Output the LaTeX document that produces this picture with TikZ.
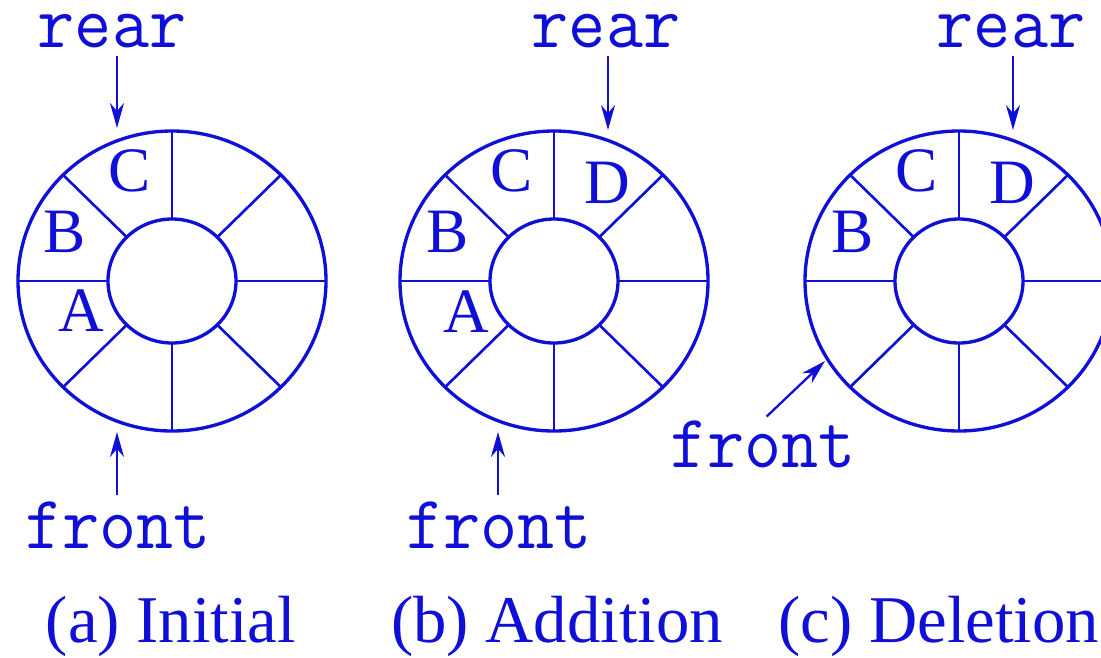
\documentclass[tikz,border=0pt]{standalone}
\usepackage{fontspec}
\setmainfont{Liberation Serif}
\usetikzlibrary{arrows.meta,calc}
\definecolor{qblue}{RGB}{15,15,215}
\tikzset{
  ring/.style={qblue, line width=1.9pt},
  spk/.style={qblue, line width=1.5pt},
  slot/.style={font=\fontsize{36}{36}\selectfont, text=qblue, inner sep=0pt},
  ptr/.style={font=\ttfamily\fontsize{41}{41}\selectfont, text=qblue, inner sep=0pt, yscale=1.05},
  parr/.style={-{Stealth[length=5mm, width=2.8mm]}, qblue, line width=1.3pt},
  capt/.style={font=\fontsize{38}{38}\selectfont, text=qblue, inner sep=0pt},
}

\begin{document}
\begin{tikzpicture}[x=0.02cm,y=-0.02cm]
  \useasboundingbox (0,0) rectangle (1101,657);
  \foreach \q/\cx in {a/172, b/554, c/959}{
    \coordinate (ring\q) at (\cx,281);
    \draw[ring] (ring\q) ellipse [x radius=154, y radius=150];
    \draw[ring] (ring\q) ellipse [x radius=64, y radius=62];
    \foreach \ang in {0,45,...,315}
      \draw[spk] ($(ring\q)+(\ang:64 and 62)$) -- ($(ring\q)+(\ang:154 and 150)$);
  }
  \foreach \q/\lt/\dx/\dy in {a/A/-91/30, a/B/-107/-49, a/C/-42/-110,
                              b/A/-88/31, b/B/-106/-49, b/C/-42/-110, b/D/53/-98,
                              c/B/-106/-49, c/C/-42/-110, c/D/53/-98}
    \node[slot] (\q\lt) at ($(ring\q)+(\dx,\dy)$) {\lt};

  \node[ptr, anchor=base] (reara) at (112,47) {rear};
  \node[ptr, anchor=base] (rearb) at (606,47) {rear};
  \node[ptr, anchor=base] (rearc) at (1011,47) {rear};
  \node[ptr, anchor=base] (fronta) at (118,548) {front};
  \node[ptr, anchor=base] (frontb) at (499,548) {front};
  \node[ptr, anchor=base] (frontc) at (763,467) {front};

  \coordinate (rtipa) at (117,128);
  \coordinate (rtipb) at (608,130);
  \coordinate (rtipc) at (1013,130);
  \coordinate (ftipa) at (117,432);
  \coordinate (ftipb) at (498,432);
  \coordinate (ftipc) at (825,361);
  \draw[parr, shorten <=0.16cm] (reara.south -| rtipa) -- (rtipa);
  \draw[parr, shorten <=0.16cm] (rearb.south -| rtipb) -- (rtipb);
  \draw[parr, shorten <=0.16cm] (rearc.south -| rtipc) -- (rtipc);
  \draw[parr, shorten <=0.12cm] (fronta.north -| ftipa) -- (ftipa);
  \draw[parr, shorten <=0.12cm] (frontb.north -| ftipb) -- (ftipb);
  \draw[parr, shorten <=0.1cm] (frontc.north) -- (ftipc);

  \node[capt, anchor=base] (capa) at (171,642) {(a) Initial};
  \node[capt, anchor=base] (capb) at (557,642) {(b) Addition};
  \node[capt, anchor=base west] (capc) at (778,642) {(c) Deletion};
\end{tikzpicture}
\end{document}
